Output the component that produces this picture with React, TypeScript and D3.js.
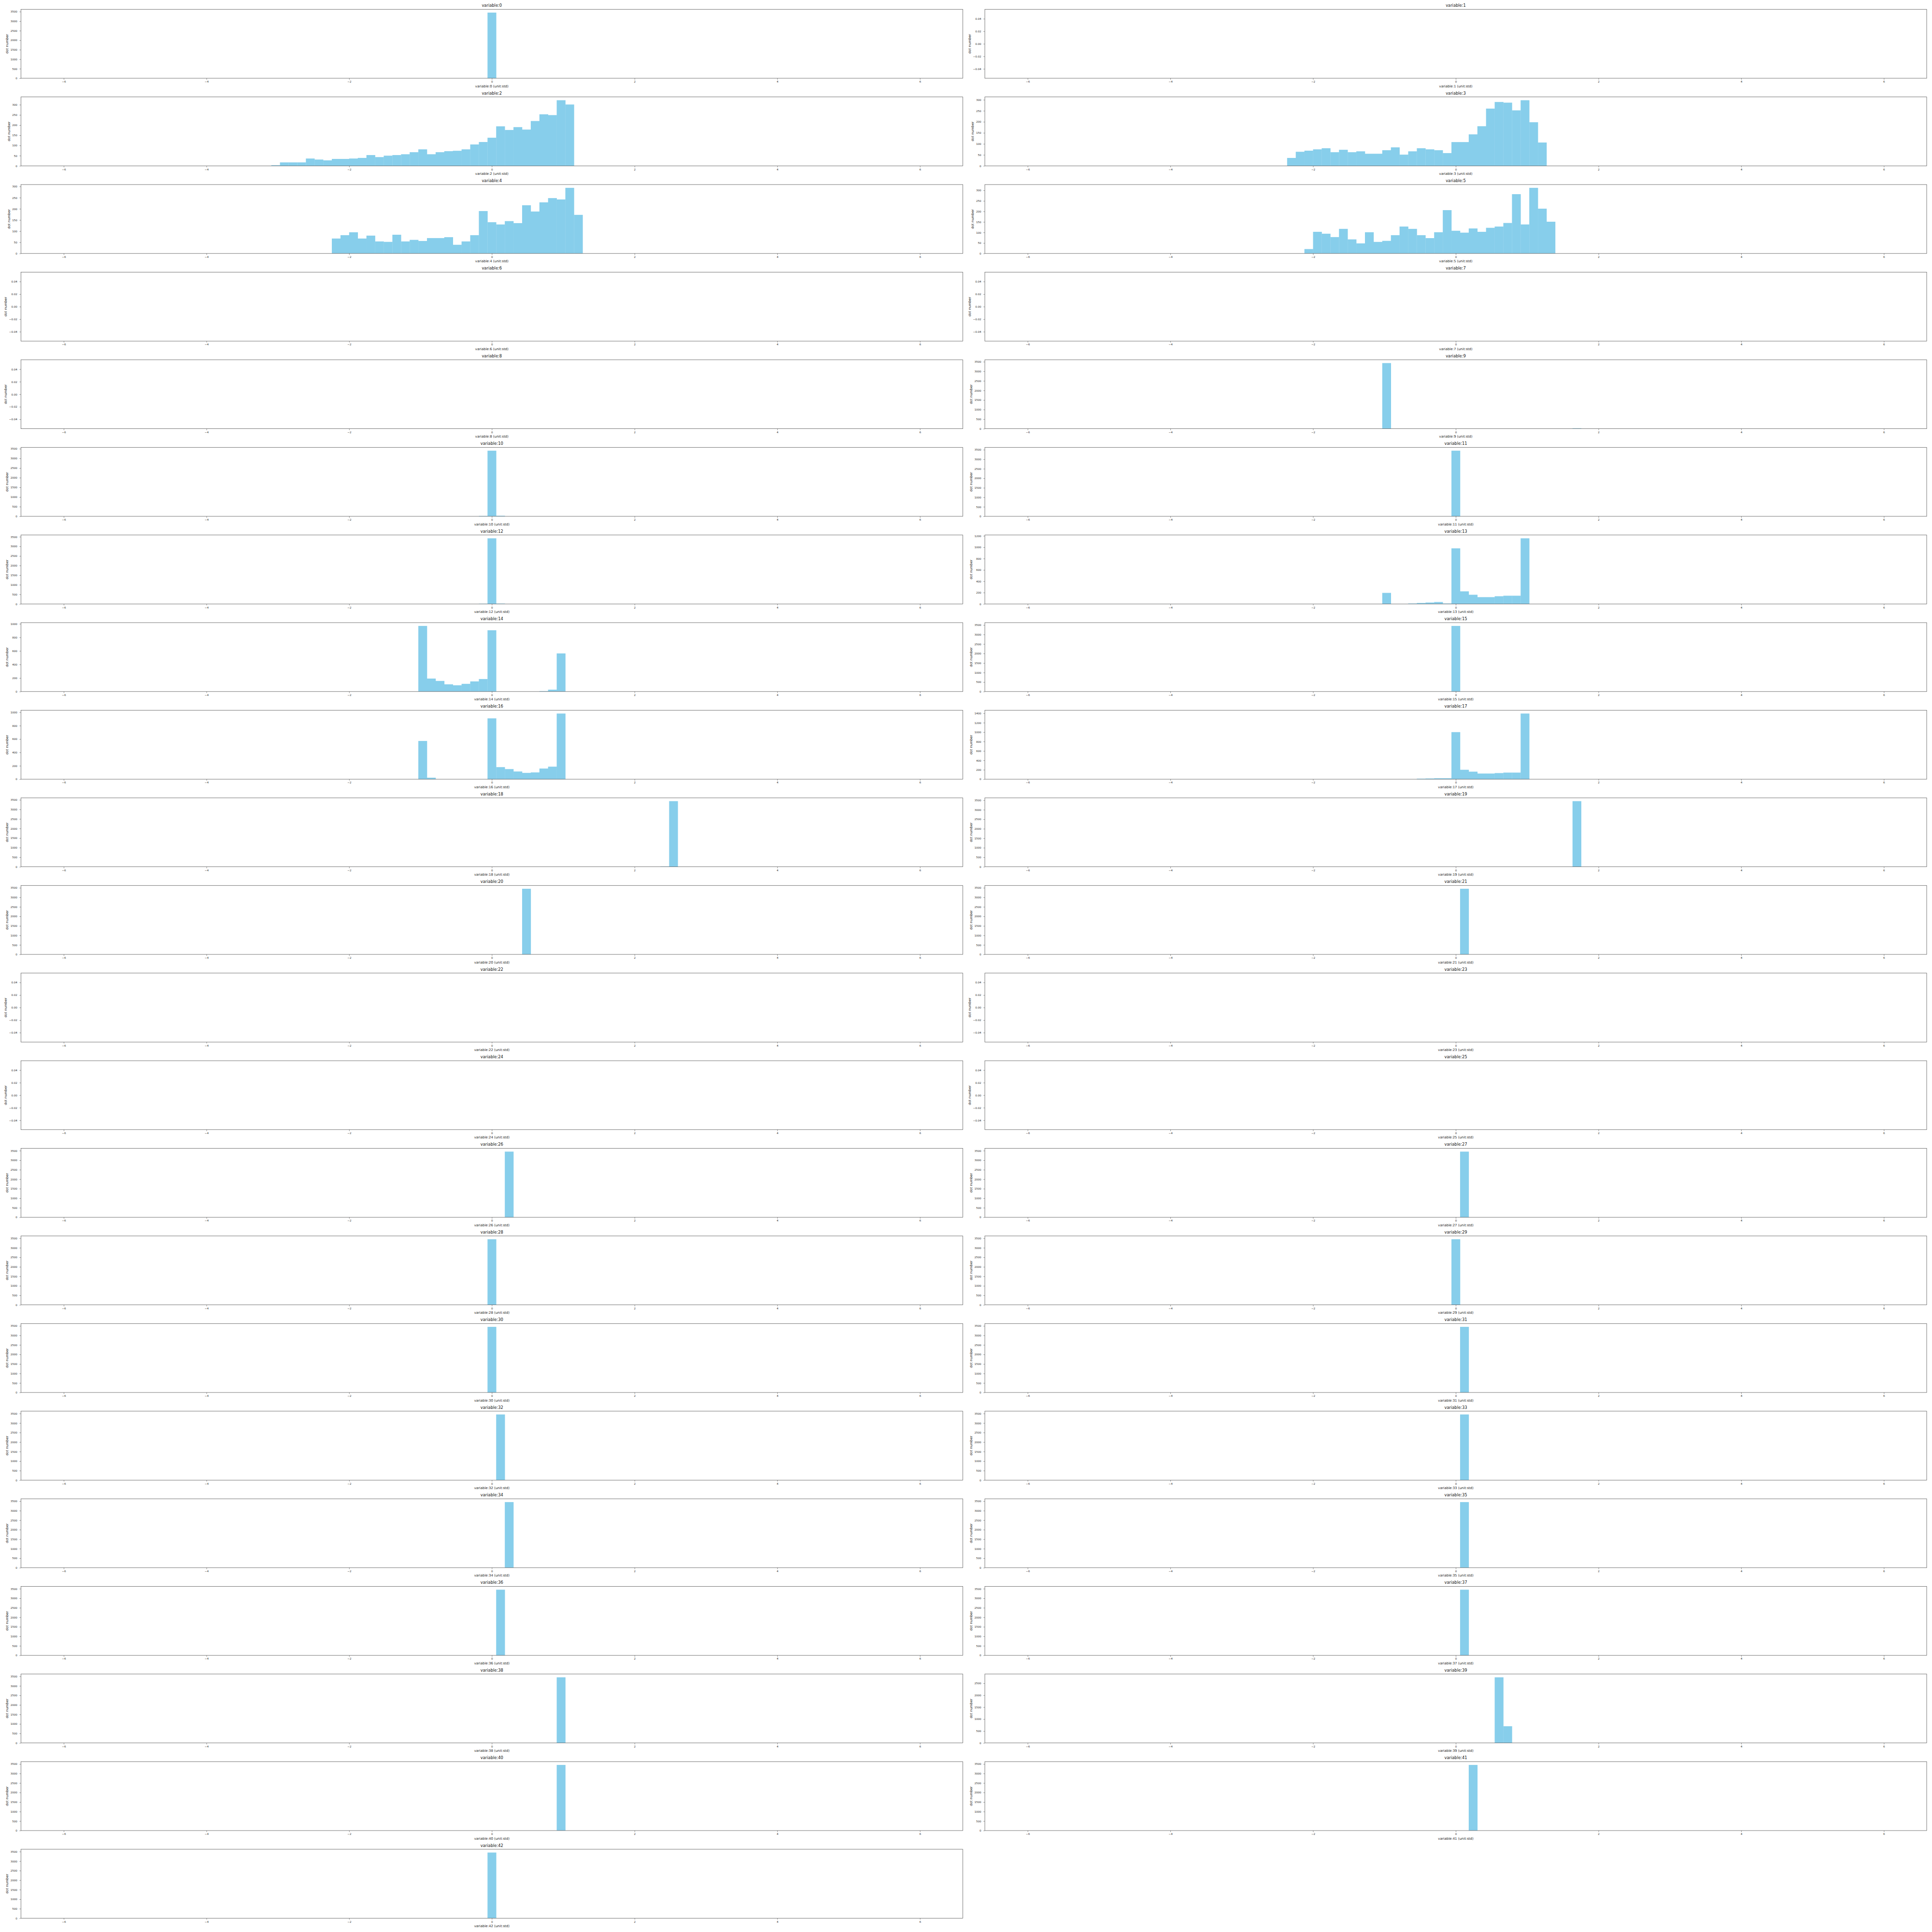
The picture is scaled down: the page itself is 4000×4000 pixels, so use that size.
import React, { useEffect, useRef } from 'react';
import * as d3 from 'd3';

// histogram bins: 100 edges over [-6, 6]
const binRange = [-6, 6];
const binCount = 99;
const xDomain = [-6.6, 6.6];
const xTicks = [-6, -4, -2, 0, 2, 4, 6];

// first non-empty bin of each variable (-1 = no data)
const firstBin = [
  49, -1, 24, 30, 31, 32, -1, -1, -1, 41,
  48, 49, 48, 41, 41, 49, 41, 45, 69, 63,
  53, 50, -1, -1, -1, -1, 51, 50, 49, 49,
  49, 50, 50, 50, 51, 50, 50, 50, 57, 54,
  57, 51, 49,
];

const counts0 = [3450];
const counts1: number[] = [];
const counts2 = [3, 17, 17, 17, 36, 31, 27, 34, 34, 36, 39, 53, 43, 50, 53, 57, 67, 81, 57, 67, 72, 74, 81, 105, 117, 138, 194, 176, 190, 178, 220, 253, 249, 322, 301];
const counts3 = [36, 64, 69, 75, 80, 62, 73, 62, 66, 55, 55, 71, 84, 51, 66, 80, 75, 71, 58, 108, 108, 143, 180, 260, 290, 287, 252, 298, 198, 106];
const counts4 = [67, 82, 95, 67, 80, 54, 52, 84, 54, 61, 56, 69, 69, 73, 39, 54, 82, 190, 140, 130, 145, 136, 216, 188, 229, 248, 242, 294, 173];
const counts5 = [21, 103, 94, 78, 117, 67, 48, 101, 55, 60, 87, 128, 117, 87, 73, 101, 206, 108, 99, 119, 103, 122, 128, 145, 282, 138, 312, 213, 151];
const counts6: number[] = [];
const counts7: number[] = [];
const counts8: number[] = [];
const counts9 = [3430, 0, 0, 0, 0, 0, 0, 0, 0, 0, 0, 0, 0, 0, 0, 0, 0, 0, 0, 0, 0, 0, 25];
const counts10 = [20, 3400, 30];
const counts11 = [3450];
const counts12 = [15, 3420, 20];
const counts13 = [195, 0, 0, 8, 17, 25, 34, 8, 980, 222, 162, 120, 120, 136, 145, 145, 1157];
const counts14 = [969, 192, 157, 107, 93, 114, 150, 185, 905, 0, 0, 0, 0, 0, 7, 28, 563];
const counts15 = [3450];
const counts16 = [571, 22, 0, 0, 0, 0, 0, 0, 909, 180, 151, 115, 94, 101, 159, 187, 981];
const counts17 = [10, 15, 20, 20, 1000, 200, 160, 120, 120, 130, 140, 140, 1395];
const counts18 = [20, 3430];
const counts19 = [3450];
const counts20 = [3450];
const counts21 = [3450];
const counts22: number[] = [];
const counts23: number[] = [];
const counts24: number[] = [];
const counts25: number[] = [];
const counts26 = [3450];
const counts27 = [3450];
const counts28 = [3450];
const counts29 = [3450];
const counts30 = [3450];
const counts31 = [3450];
const counts32 = [3450];
const counts33 = [3450];
const counts34 = [3450];
const counts35 = [3450];
const counts36 = [3450];
const counts37 = [3450];
const counts38 = [3450];
const counts39 = [2750, 700];
const counts40 = [3450];
const counts41 = [3450];
const counts42 = [3450];

const allCounts = [
  counts0, counts1, counts2, counts3, counts4, counts5, counts6, counts7, counts8, counts9,
  counts10, counts11, counts12, counts13, counts14, counts15, counts16, counts17, counts18, counts19,
  counts20, counts21, counts22, counts23, counts24, counts25, counts26, counts27, counts28, counts29,
  counts30, counts31, counts32, counts33, counts34, counts35, counts36, counts37, counts38, counts39,
  counts40, counts41, counts42,
];

const FONT = 'DejaVu Sans, sans-serif';

const App: React.FC = () => {
  const svgRef = useRef<SVGSVGElement>(null);

  useEffect(() => {
    if (!svgRef.current) return;
    const svg = d3.select(svgRef.current);
    svg.selectAll('*').remove();

    const edges = d3.range(binCount + 1).map(i => binRange[0] + (i * (binRange[1] - binRange[0])) / binCount);

    const colLeft = [43.3, 2039];
    const axW = 1950;
    const top0 = 19.3;
    const rowStep = 181.4;
    const axH = 142.7;

    allCounts.forEach((counts, idx) => {
      const col = idx % 2;
      const row = Math.floor(idx / 2);
      const left = colLeft[col];
      const top = top0 + row * rowStep;
      const bottom = top + axH;

      const x = d3.scaleLinear().domain(xDomain).range([left, left + axW]);
      const empty = counts.length === 0;
      const yMax = empty ? 0 : d3.max(counts) as number;
      const y = d3.scaleLinear()
        .domain(empty ? [-0.055, 0.055] : [0, yMax * 1.05])
        .range([bottom, top]);

      const g = svg.append('g');

      // bars
      const bins = counts
        .map((c, j) => ({ k: firstBin[idx] + j, c }))
        .filter(d => d.c > 0);
      g.selectAll('rect.bar')
        .data(bins)
        .enter()
        .append('rect')
        .attr('class', 'bar')
        .attr('x', d => x(edges[d.k]))
        .attr('width', d => x(edges[d.k + 1]) - x(edges[d.k]) + 0.3)
        .attr('y', d => y(d.c))
        .attr('height', d => y(0) - y(d.c))
        .attr('fill', '#87ceeb');

      // x axis
      const xAxis = g.append('g')
        .attr('transform', `translate(0, ${bottom})`)
        .call(d3.axisBottom(x).tickValues(xTicks).tickSize(3).tickPadding(2.2).tickFormat(d3.format('d')));
      xAxis.select('.domain').remove();
      xAxis.selectAll('line').attr('stroke', '#444').attr('stroke-width', 0.6);
      xAxis.selectAll('text')
        .attr('font-family', FONT)
        .attr('font-size', 5.56)
        .attr('fill', '#222');

      // y axis
      const yTicks = y.ticks(6);
      const yAxis = g.append('g')
        .attr('transform', `translate(${left}, 0)`)
        .call(d3.axisLeft(y).tickValues(yTicks).tickSize(3).tickPadding(4.5)
          .tickFormat(empty ? d3.format('.2f') : d3.format('d')));
      yAxis.select('.domain').remove();
      yAxis.selectAll('line').attr('stroke', '#444').attr('stroke-width', 0.6);
      yAxis.selectAll('text')
        .attr('font-family', FONT)
        .attr('font-size', 5.56)
        .attr('fill', '#222');

      // frame
      g.append('rect')
        .attr('x', left)
        .attr('y', top)
        .attr('width', axW)
        .attr('height', axH)
        .attr('fill', 'none')
        .attr('stroke', '#555')
        .attr('stroke-width', 0.8);

      // title
      g.append('text')
        .attr('x', left + axW / 2)
        .attr('y', top - 5.1)
        .attr('text-anchor', 'middle')
        .attr('font-family', FONT)
        .attr('font-size', 8.33)
        .attr('fill', '#111')
        .text(`variable:${idx}`);

      // x label
      g.append('text')
        .attr('x', left + axW / 2)
        .attr('y', bottom + 18.5)
        .attr('text-anchor', 'middle')
        .attr('font-family', FONT)
        .attr('font-size', 6.94)
        .attr('fill', '#222')
        .text(`variable:${idx} (unit:std)`);

      // y label, left of the widest tick label
      let minX = left;
      yAxis.selectAll<SVGTextElement, unknown>('text').each(function () {
        const b = this.getBBox();
        minX = Math.min(minX, left + b.x);
      });
      g.append('text')
        .attr('transform', `translate(${minX - 4.7}, ${(top + bottom) / 2}) rotate(-90)`)
        .attr('text-anchor', 'middle')
        .attr('font-family', FONT)
        .attr('font-size', 6.94)
        .attr('fill', '#222')
        .text('dot number');
    });
  }, []);

  return (
    <svg
      ref={svgRef}
      width={4000}
      height={4000}
      style={{ position: 'absolute', left: 0, top: 0, background: '#fff' }}
    />
  );
};

export default App;
